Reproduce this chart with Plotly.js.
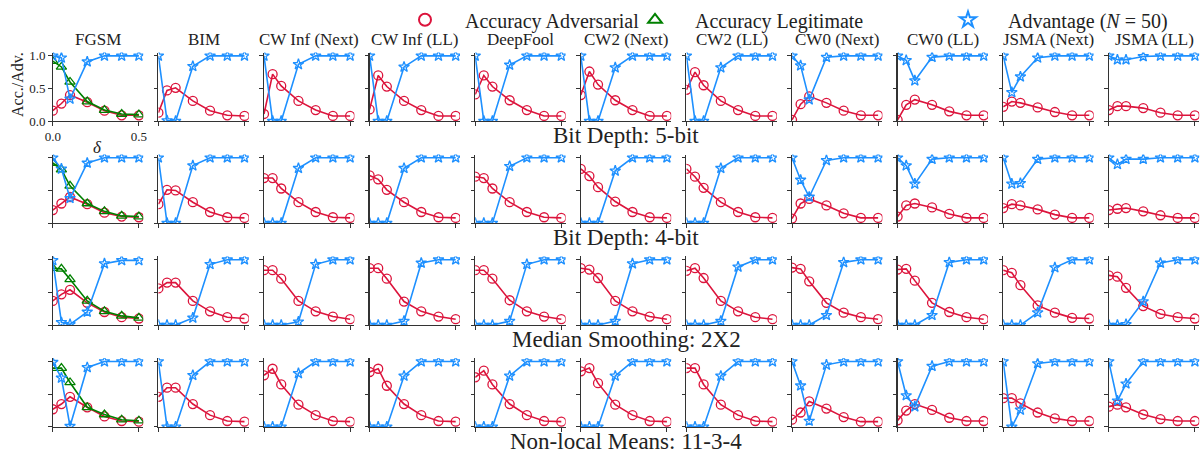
<!DOCTYPE html>
<html><head><meta charset="utf-8">
<script src="https://cdn.plot.ly/plotly-3.0.1.min.js"></script>
<style>html,body{margin:0;padding:0;background:#fff}#chart{width:1203px;height:457px}</style>
</head><body><div id="chart"></div>
<script>
const deltas = [0, 0.05, 0.1, 0.2, 0.3, 0.4, 0.5];
const attacks = ['FGSM','BIM','CW Inf (Next)','CW Inf (LL)','DeepFool','CW2 (Next)','CW2 (LL)','CW0 (Next)','CW0 (LL)','JSMA (Next)','JSMA (LL)'];
const squeezers = ['Bit Depth: 5-bit','Bit Depth: 4-bit','Median Smoothing: 2X2','Non-local Means: 11-3-4'];
const xTickVals = [0, 0.5];
const xTickText = ['0.0', '0.5'];
const yTickVals = [0, 0.5, 1];
const yTickText = ['0.0', '0.5', '1.0'];

// ---- Bit Depth: 5-bit ----
const adv5bit = [
  [0.16,0.27,0.40,0.29,0.16,0.09,0.09],
  [0.13,0.47,0.51,0.31,0.16,0.09,0.08],
  [0.11,0.72,0.54,0.31,0.17,0.08,0.08],
  [0.18,0.70,0.53,0.31,0.17,0.08,0.08],
  [0.41,0.70,0.53,0.32,0.17,0.08,0.08],
  [0.40,0.76,0.56,0.32,0.17,0.08,0.08],
  [0.48,0.75,0.55,0.31,0.17,0.08,0.08],
  [0.02,0.26,0.38,0.28,0.16,0.09,0.09],
  [0.02,0.25,0.33,0.25,0.15,0.09,0.09],
  [0.22,0.30,0.28,0.21,0.14,0.09,0.09],
  [0.17,0.23,0.23,0.20,0.13,0.09,0.09]
];
const advantage5bit = [
  [1.00,0.97,0.34,0.91,1,1,1],
  [1.00,0.01,0.00,0.84,1,1,1],
  [1,0,0,0.87,1,1,1],
  [1,0,0,0.83,1,1,1],
  [1,0,0,0.86,1,1,1],
  [1,0,0,0.82,1,1,1],
  [1,0,0,0.82,1,1,1],
  [1,0.85,0.33,0.98,1,1,1],
  [1,0.93,0.62,0.98,1,1,1],
  [1,0.44,0.68,0.97,1,1,1],
  [1,0.94,0.94,0.99,1,1,1]
];
const legit5bit = [0.92,0.83,0.60,0.30,0.17,0.11,0.10];

// ---- Bit Depth: 4-bit ----
const adv4bit = [
  [0.20,0.30,0.40,0.29,0.16,0.10,0.09],
  [0.29,0.51,0.50,0.32,0.17,0.09,0.08],
  [0.69,0.69,0.53,0.32,0.17,0.09,0.08],
  [0.73,0.67,0.51,0.32,0.17,0.09,0.08],
  [0.71,0.69,0.53,0.32,0.17,0.09,0.08],
  [0.83,0.72,0.55,0.33,0.17,0.09,0.08],
  [0.83,0.71,0.54,0.32,0.17,0.09,0.08],
  [0.07,0.30,0.37,0.27,0.15,0.08,0.08],
  [0.10,0.27,0.30,0.24,0.14,0.08,0.08],
  [0.23,0.29,0.27,0.21,0.13,0.08,0.08],
  [0.20,0.22,0.23,0.18,0.12,0.08,0.08]
];
const advantage4bit = [
  [1.00,0.83,0.38,0.92,1,1,1],
  [1,0,0,0.88,1,1,1],
  [0,0,0,0.84,1,1,1],
  [0,0,0,0.84,1,1,1],
  [0,0,0,0.87,1,1,1],
  [0,0,0,0.80,1,1,1],
  [0,0,0,0.84,1,1,1],
  [1,0.66,0.40,0.96,1,1,1],
  [1,0.88,0.60,0.98,1,1,1],
  [1,0.60,0.61,0.98,1,1,1],
  [1,0.90,0.98,0.98,1,1,1]
];
const legit4bit = [0.92,0.82,0.57,0.30,0.18,0.11,0.10];

// ---- Median Smoothing: 2X2 ----
const advMedian = [
  [0.37,0.47,0.54,0.34,0.20,0.12,0.10],
  [0.56,0.65,0.65,0.37,0.21,0.12,0.10],
  [0.84,0.84,0.71,0.37,0.21,0.13,0.09],
  [0.87,0.87,0.71,0.36,0.21,0.13,0.09],
  [0.84,0.84,0.71,0.38,0.21,0.13,0.09],
  [0.87,0.85,0.72,0.37,0.21,0.13,0.09],
  [0.83,0.87,0.72,0.37,0.21,0.12,0.09],
  [0.88,0.86,0.67,0.34,0.19,0.12,0.09],
  [0.85,0.86,0.68,0.34,0.20,0.12,0.09],
  [0.84,0.80,0.61,0.30,0.19,0.11,0.10],
  [0.76,0.74,0.57,0.29,0.17,0.12,0.10]
];
const advantageMedian = [
  [0.99,0.04,0.01,0.20,0.94,0.99,0.99],
  [0,0,0,0.11,0.93,1,1],
  [0,0,0,0.05,0.93,1,1],
  [0,0,0,0.06,0.95,1,1],
  [0,0,0,0.06,0.93,1,1],
  [0,0,0,0.06,0.94,1,1],
  [0,0,0,0.06,0.89,1,1],
  [0,0,0,0.15,0.96,1,1],
  [0,0,0,0.15,0.96,1,1],
  [0,0,0,0.19,0.88,1,1],
  [0,0,0.01,0.36,0.95,1,1]
];
const legitMedian = [0.87,0.86,0.70,0.37,0.21,0.14,0.11];

// ---- Non-local Means: 11-3-4 ----
const advNLM = [
  [0.27,0.35,0.46,0.30,0.16,0.09,0.08],
  [0.46,0.60,0.60,0.35,0.18,0.09,0.08],
  [0.79,0.89,0.65,0.34,0.18,0.09,0.08],
  [0.84,0.89,0.63,0.35,0.18,0.09,0.08],
  [0.76,0.86,0.65,0.35,0.18,0.09,0.08],
  [0.85,0.90,0.67,0.34,0.18,0.09,0.08],
  [0.90,0.90,0.65,0.34,0.18,0.09,0.08],
  [0.11,0.22,0.39,0.28,0.15,0.08,0.08],
  [0.10,0.25,0.35,0.26,0.14,0.09,0.09],
  [0.44,0.44,0.36,0.22,0.13,0.09,0.09],
  [0.31,0.34,0.30,0.19,0.12,0.09,0.09]
];
const advantageNLM = [
  [0.99,0.75,0.01,0.91,1,1,1],
  [1,0,0,0.79,1,1,1],
  [0,0,0,0.82,1,1,1],
  [0,0,0,0.78,1,1,1],
  [0,0,0,0.78,1,1,1],
  [0,0,0,0.78,1,1,1],
  [0,0,0,0.78,1,1,1],
  [1,0.63,0.09,0.95,1,1,1],
  [1,0.48,0.31,0.93,1,1,1],
  [1,0,0.26,0.97,1,1,1],
  [1,0.40,0.66,1,1,1,1]
];
const legitNLM = [0.90,0.90,0.68,0.30,0.19,0.11,0.095];

const advRows = [adv5bit, adv4bit, advMedian, advNLM];
const advantageRows = [advantage5bit, advantage4bit, advantageMedian, advantageNLM];
const legitRows = [legit5bit, legit4bit, legitMedian, legitNLM];

// ---- layout geometry (pixels) ----
const W = 1203, H = 457;
const FONT = 'Liberation Serif, DejaVu Serif, serif';
const TXT = '#222';
const RED = 'crimson', GREEN = 'green', BLUE = 'dodgerblue';
const colLeft = c => 52.8 + c * 105.6;
const panelW = 90.4;
const rowBase = [116.7, 220, 323.3, 426.5];
const unit = 66.2;
const px = v => v / W, py = v => (H - v) / H;

function legendAt(xPix) {
  return {x: px(xPix), y: py(14), xanchor: 'left', yanchor: 'middle', orientation: 'h',
    itemsizing: 'constant', itemwidth: 70, bgcolor: 'rgba(0,0,0,0)',
    font: {family: FONT, size: 20, color: TXT}};
}

const traces = [];
const layout = {
  width: W, height: H,
  margin: {l: 0, r: 0, t: 0, b: 0},
  paper_bgcolor: '#fff', plot_bgcolor: 'rgba(0,0,0,0)',
  font: {family: FONT, color: TXT},
  annotations: [],
  legend: legendAt(385),
  legend2: legendAt(615),
  legend3: legendAt(928)
};

function addSeries(y, xa, ya, color, symbol, size, name, legend, showLeg) {
  traces.push({x: deltas, y: y, xaxis: xa, yaxis: ya, mode: 'lines',
    line: {color: color, width: 1.6}, showlegend: false, hoverinfo: 'skip'});
  traces.push({x: deltas, y: y, xaxis: xa, yaxis: ya, mode: 'markers', name: name, legend: legend,
    marker: {symbol: symbol, size: size, color: color, line: {color: color, width: 1.3}},
    showlegend: showLeg, hoverinfo: 'skip'});
}

for (let r = 0; r < squeezers.length; r++) {
  for (let c = 0; c < attacks.length; c++) {
    const n = r * attacks.length + c + 1;
    const xa = n === 1 ? 'x' : 'x' + n;
    const ya = n === 1 ? 'y' : 'y' + n;
    const first = (r === 0 && c === 0);
    const common = {showline: true, linecolor: '#333', linewidth: 1.2, ticks: 'outside', ticklen: 3.5,
      tickwidth: 1, tickcolor: '#333', showgrid: false, zeroline: false, fixedrange: true,
      showticklabels: first, tickfont: {family: FONT, size: 13, color: TXT}};
    layout[n === 1 ? 'xaxis' : 'xaxis' + n] = Object.assign({}, common, {
      domain: [px(colLeft(c)), px(colLeft(c) + panelW)], range: [0, 0.525], anchor: ya,
      tickmode: 'array', tickvals: xTickVals, ticktext: xTickText});
    layout[n === 1 ? 'yaxis' : 'yaxis' + n] = Object.assign({}, common, {
      domain: [py(rowBase[r]), py(rowBase[r] - 1.05 * unit)], range: [0, 1.05], anchor: xa,
      tickmode: 'array', tickvals: yTickVals, ticktext: yTickText});

    addSeries(advRows[r][c], xa, ya, RED, 'circle-open', 9, 'Accuracy Adversarial', 'legend', first);
    if (c === 0) addSeries(legitRows[r], xa, ya, GREEN, 'triangle-up-open', 9, 'Accuracy Legitimate', 'legend2', first);
    addSeries(advantageRows[r][c], xa, ya, BLUE, 'star-open', 8, 'Advantage (<i>N</i> = 50)', 'legend3', first);

    if (r === 0) {
      layout.annotations.push({text: attacks[c], xref: 'paper', yref: 'paper',
        x: px(colLeft(c) + panelW / 2), y: py(34), xanchor: 'center', yanchor: 'middle',
        showarrow: false, font: {family: FONT, size: 17, color: TXT}});
    }
  }
  layout.annotations.push({text: squeezers[r], xref: 'paper', yref: 'paper',
    x: px(colLeft(5) + panelW / 2), y: py(rowBase[r] + 15), xanchor: 'center', yanchor: 'middle',
    showarrow: false, font: {family: FONT, size: 23, color: TXT}});
}
layout.annotations.push({text: 'Acc./Adv.', xref: 'paper', yref: 'paper', x: px(18), y: py(80),
  xanchor: 'center', yanchor: 'middle', textangle: -90, showarrow: false,
  font: {family: FONT, size: 16, color: TXT}});
layout.annotations.push({text: '<i>δ</i>', xref: 'paper', yref: 'paper', x: px(97), y: py(143),
  xanchor: 'center', yanchor: 'middle', showarrow: false, font: {family: FONT, size: 17, color: TXT}});

Plotly.newPlot('chart', traces, layout, {displayModeBar: false, staticPlot: true});
</script></body></html>
